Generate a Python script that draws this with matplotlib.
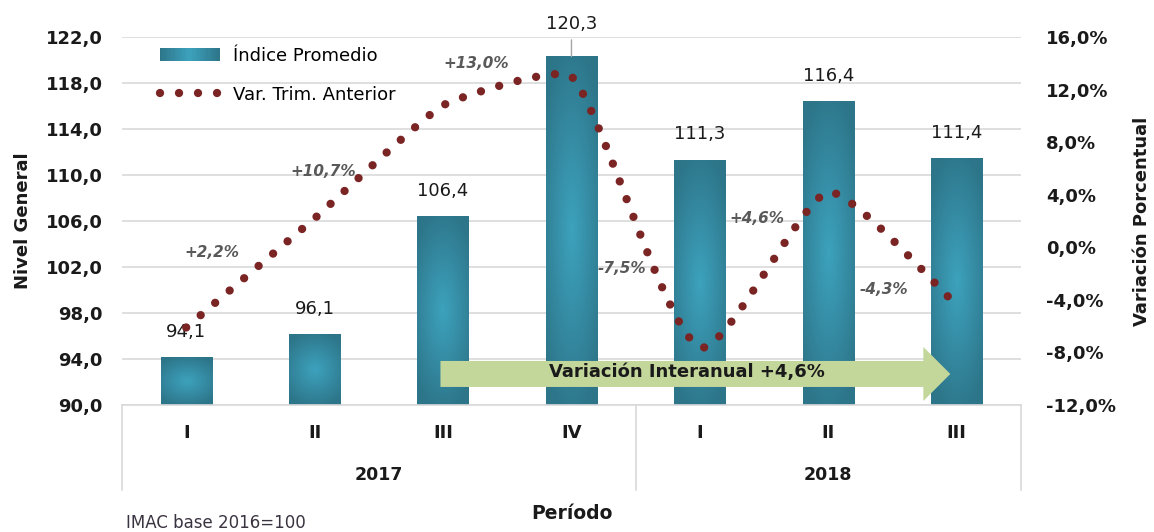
import numpy as np
import matplotlib
matplotlib.use("Agg")
import matplotlib.pyplot as plt
from matplotlib.colors import LinearSegmentedColormap
from matplotlib.patches import Patch, FancyArrow, Rectangle
from matplotlib.lines import Line2D
from matplotlib.legend_handler import HandlerPatch

plt.rcParams["font.family"] = "DejaVu Sans"

# data
quarters = ["I", "II", "III", "IV", "I", "II", "III"]
years = ["2017", "2018"]
year_sizes = [4, 3]
indice = [94.1, 96.1, 106.4, 120.3, 111.3, 116.4, 111.4]
variacion = [-6.1, 2.2, 10.8, 13.0, -7.6, 4.2, -4.4]
var_labels = ["+2,2%", "+10,7%", "+13,0%", "-7,5%", "+4,6%", "-4,3%"]
interanual = "Variación Interanual +4,6%"

# label positions (category units, % units)
var_label_pos = [(0.2, -0.4), (1.07, 5.8), (2.26, 14.0), (3.39, -1.6), (4.44, 2.2), (5.43, -3.2)]

TEAL_DARK = "#2d7589"
TEAL_LIGHT = "#3da2bd"
DOT = "#7a2424"
GRID = "#d9d9d9"
TXT = "#1a1a1a"


def smooth(xs, ys, yscale, k=0.13, n=40):
    # lightly rounded line (bezier), computed in screen-like proportions
    p = np.column_stack([xs, np.asarray(ys, float) * yscale]).astype(float)
    tang = []
    for i in range(len(p)):
        d = p[min(i + 1, len(p) - 1)] - p[max(i - 1, 0)]
        tang.append(d / np.hypot(*d))
    t = np.linspace(0, 1, n, endpoint=False)[:, None]
    out = []
    for i in range(len(p) - 1):
        p1, p2 = p[i], p[i + 1]
        L = np.hypot(*(p2 - p1))
        c1 = p1 + tang[i] * L * k
        c2 = p2 - tang[i + 1] * L * k
        out.append((1 - t) ** 3 * p1 + 3 * (1 - t) ** 2 * t * c1 + 3 * (1 - t) * t ** 2 * c2 + t ** 3 * p2)
    out.append(p[-1][None, :])
    out = np.vstack(out)
    return out[:, 0], out[:, 1] / yscale


class GradientHandler(HandlerPatch):
    def create_artists(self, legend, orig_handle, xdescent, ydescent, width, height, fontsize, trans):
        cm = LinearSegmentedColormap.from_list("g", [TEAL_DARK, TEAL_LIGHT, TEAL_DARK])
        n = 24
        arts = []
        for j in range(n):
            r = Rectangle((-xdescent + width * j / n, -ydescent), width / n + 0.3, height,
                          facecolor=cm((j + 0.5) / n), edgecolor="none", transform=trans)
            arts.append(r)
        return arts


fig = plt.figure(figsize=(11.54, 5.32), dpi=100)
ax = fig.add_axes([0.1057, 0.2387, 0.779, 0.6918])
ax2 = ax.twinx()

x = np.arange(len(indice))
width = 0.4
ymin, ymax = 90, 122

# gradient bars
cmap = LinearSegmentedColormap.from_list("teal", [TEAL_LIGHT, TEAL_DARK])
gu, gv = np.meshgrid(np.linspace(-1, 1, 60), np.linspace(-1, 1, 120))
grad = np.clip(np.sqrt(gu ** 2 * 0.6 + gv ** 2) / 1.1, 0, 1)
bars = ax.bar(x, np.array(indice) - ymin, width, bottom=ymin, color="none", zorder=2)
for b in bars:
    x0, y0 = b.get_x(), b.get_y()
    ax.imshow(grad, cmap=cmap, vmin=0, vmax=1, aspect="auto", zorder=2,
              extent=[x0, x0 + b.get_width(), y0, y0 + b.get_height()], interpolation="bilinear")

# value labels
for xi, v in zip(x, indice):
    if v == max(indice):
        ax.annotate(f"{v:.1f}".replace(".", ","), (xi, v), xytext=(0, 17), textcoords="offset points",
                    ha="center", va="bottom", fontsize=13, color=TXT, annotation_clip=False,
                    arrowprops=dict(arrowstyle="-", color="#a6a6a6", lw=1, shrinkA=3, shrinkB=0))
    else:
        ax.annotate(f"{v:.1f}".replace(".", ","), (xi, v), xytext=(0, 12), textcoords="offset points",
                    ha="center", va="bottom", fontsize=13, color=TXT, annotation_clip=False)

ax.set_xlim(-0.5, len(indice) - 0.5)
ax.set_ylim(ymin, ymax)
ax.set_yticks(np.arange(ymin, ymax + 1, 4))
ax.set_yticklabels([f"{v:.1f}".replace(".", ",") for v in np.arange(ymin, ymax + 1, 4)])
ax.grid(axis="y", color=GRID, lw=1.2, zorder=0)
ax.set_axisbelow(True)
ax.set_xticks(x)
ax.set_xticklabels(quarters, fontweight="bold", fontsize=13, color=TXT)
ax.tick_params(axis="x", length=0, pad=14)
ax.tick_params(axis="y", length=0, pad=14, labelsize=13, labelcolor=TXT)
for lab in ax.get_yticklabels():
    lab.set_fontweight("bold")
for s in ["top", "left", "right"]:
    ax.spines[s].set_visible(False)
ax.spines["bottom"].set_color(GRID)
ax.spines["bottom"].set_linewidth(1.2)
ax.set_ylabel("Nivel General", fontsize=13, fontweight="bold", labelpad=10, color=TXT)

# year groups under the axis
edges = np.concatenate([[0], np.cumsum(year_sizes)]) - 0.5
for e in edges:
    ax.plot([e, e], [0, -0.232], color=GRID, lw=1.2, transform=ax.get_xaxis_transform(), clip_on=False)
for i, yr in enumerate(years):
    ax.text((edges[i] + edges[i + 1]) / 2, -0.19, yr, transform=ax.get_xaxis_transform(),
            ha="center", va="center", fontsize=12.5, fontweight="bold", color=TXT)
fig.text(0.496, 0.035, "Período", ha="center", va="center", fontsize=13.5, fontweight="bold", color=TXT)
fig.text(0.109, 0.016, "IMAC base 2016=100", ha="left", va="center", fontsize=12, color="#3a3340")

# interannual arrow
arr = FancyArrow(1.98, 92.7, 5.95 - 1.98, 0, width=2.26, head_width=4.7, head_length=0.21,
                 length_includes_head=True, color="#c4d79b", lw=0, zorder=3)
ax.add_patch(arr)
ax.text(3.9, 92.9, interanual, ha="center", va="center", fontsize=13, fontweight="bold",
        color=TXT, zorder=4)

# variation line
ax2.set_ylim(-12, 16)
px_per_cat = 128.5
px_per_pct = 13.14
cx, cy = smooth(x, variacion, px_per_pct / px_per_cat)
dot_style = dict(color=DOT, lw=6.0, linestyle=(0, (0.001, 2.28)), dash_capstyle="round")
ax2.plot(cx, cy, zorder=5, **dot_style)
for (lx, ly), txt in zip(var_label_pos, var_labels):
    ax2.text(lx, ly, txt, ha="center", va="center", fontsize=11, fontstyle="italic",
             fontweight="bold", color="#595959")

pct = np.arange(-12, 17, 4)
ax2.set_yticks(pct)
ax2.set_yticklabels([f"{v:.1f}%".replace(".", ",") for v in pct])
ax2.tick_params(axis="y", length=0, pad=18, labelsize=13, labelcolor=TXT)
for lab in ax2.get_yticklabels():
    lab.set_fontweight("bold")
for s in ax2.spines.values():
    s.set_visible(False)
ax2.set_ylabel("Variación Porcentual", fontsize=13, fontweight="bold", labelpad=12, color=TXT)

# legend
bar_handle = Patch(facecolor="#3590a8", edgecolor="none")
handles = [bar_handle, Line2D([0], [0], **dot_style)]
ax.legend(handles, ["Índice Promedio", "Var. Trim. Anterior"], loc="upper left",
          bbox_to_anchor=(160 / 1154, 1 - 47 / 532), bbox_transform=fig.transFigure,
          frameon=False, fontsize=13, handlelength=3.3, handleheight=0.7, handletextpad=0.75,
          labelspacing=1.15, borderpad=0, borderaxespad=0,
          handler_map={bar_handle: GradientHandler()})
ax.set_zorder(ax2.get_zorder() - 1)
ax.patch.set_visible(False)

fig.savefig("out.png", dpi=100)
